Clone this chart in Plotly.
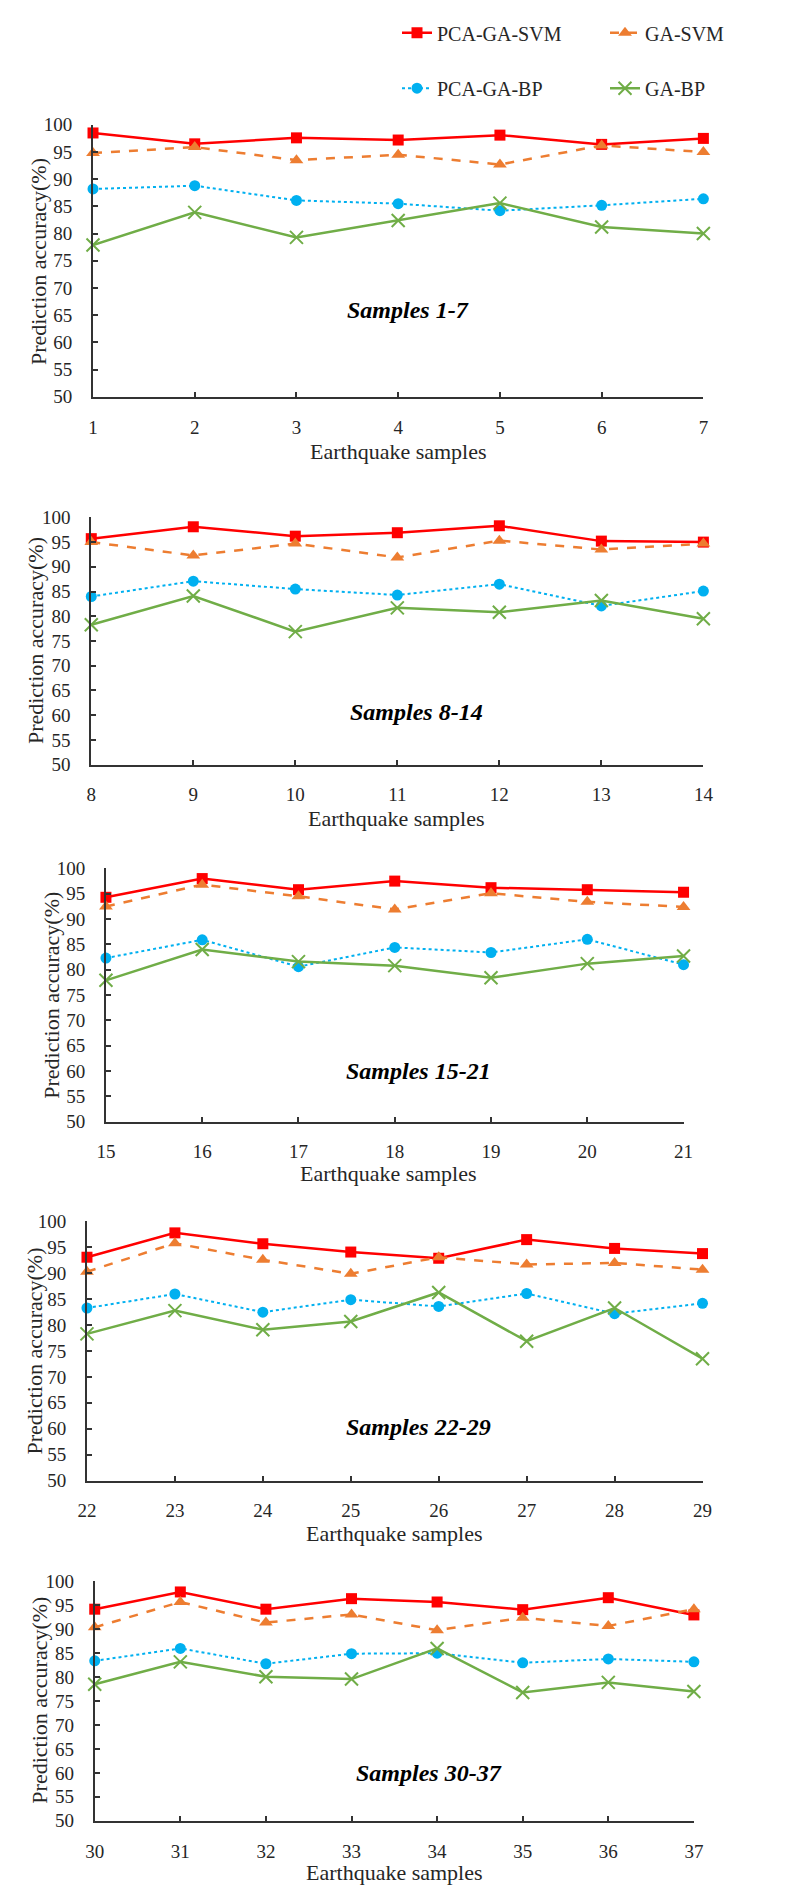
import plotly.graph_objects as go

W, H = 805, 1889

# ---------------- data ----------------
samples_p1 = [1, 2, 3, 4, 5, 6, 7]
samples_p2 = [8, 9, 10, 11, 12, 13, 14]
samples_p3 = [15, 16, 17, 18, 19, 20, 21]
samples_p4 = [22, 23, 24, 25, 26, 27, 28, 29]
samples_p5 = [30, 31, 32, 33, 34, 35, 36, 37]

pca_ga_svm_p1 = [98.5, 96.5, 97.6, 97.2, 98.1, 96.4, 97.5]
ga_svm_p1 = [94.8, 95.9, 93.5, 94.5, 92.7, 96.2, 95.0]
pca_ga_bp_p1 = [88.2, 88.8, 86.1, 85.5, 84.2, 85.2, 86.4]
ga_bp_p1 = [77.9, 83.9, 79.3, 82.4, 85.6, 81.2, 80.0]

pca_ga_svm_p2 = [95.7, 98.1, 96.2, 96.9, 98.3, 95.2, 95.0]
ga_svm_p2 = [95.0, 92.3, 94.7, 91.9, 95.3, 93.5, 94.7]
pca_ga_bp_p2 = [84.0, 87.1, 85.5, 84.3, 86.5, 82.1, 85.1]
ga_bp_p2 = [78.3, 84.1, 76.9, 81.7, 80.8, 83.2, 79.5]

pca_ga_svm_p3 = [94.3, 98.0, 95.8, 97.5, 96.2, 95.8, 95.3]
ga_svm_p3 = [92.5, 96.8, 94.5, 91.9, 95.1, 93.4, 92.4]
pca_ga_bp_p3 = [82.3, 85.9, 80.6, 84.4, 83.4, 86.0, 81.0]
ga_bp_p3 = [77.9, 84.0, 81.6, 80.8, 78.4, 81.2, 82.7]

pca_ga_svm_p4 = [93.1, 97.8, 95.7, 94.1, 92.9, 96.5, 94.8, 93.8]
ga_svm_p4 = [90.3, 95.8, 92.6, 89.9, 93.1, 91.7, 92.0, 90.7]
pca_ga_bp_p4 = [83.3, 86.0, 82.5, 84.9, 83.6, 86.1, 82.2, 84.2]
ga_bp_p4 = [78.3, 82.8, 79.1, 80.7, 86.3, 76.9, 83.3, 73.5]

pca_ga_svm_p5 = [94.2, 97.8, 94.2, 96.4, 95.7, 94.1, 96.6, 93.0]
ga_svm_p5 = [90.4, 95.7, 91.4, 93.1, 89.8, 92.4, 90.7, 94.2]
pca_ga_bp_p5 = [83.4, 86.0, 82.8, 84.9, 85.0, 83.0, 83.8, 83.2]
ga_bp_p5 = [78.5, 83.2, 80.1, 79.6, 86.0, 76.8, 78.9, 77.0]

panel_labels = ["Samples 1-7", "Samples 8-14", "Samples 15-21", "Samples 22-29", "Samples 30-37"]
series_names = ["PCA-GA-SVM", "GA-SVM", "PCA-GA-BP", "GA-BP"]
y_ticks = [50, 55, 60, 65, 70, 75, 80, 85, 90, 95, 100]

panels = [
    (samples_p1, [pca_ga_svm_p1, ga_svm_p1, pca_ga_bp_p1, ga_bp_p1]),
    (samples_p2, [pca_ga_svm_p2, ga_svm_p2, pca_ga_bp_p2, ga_bp_p2]),
    (samples_p3, [pca_ga_svm_p3, ga_svm_p3, pca_ga_bp_p3, ga_bp_p3]),
    (samples_p4, [pca_ga_svm_p4, ga_svm_p4, pca_ga_bp_p4, ga_bp_p4]),
    (samples_p5, [pca_ga_svm_p5, ga_svm_p5, pca_ga_bp_p5, ga_bp_p5]),
]

# ---------------- layout / style ----------------
FONT = "Liberation Serif, Times New Roman, serif"
TXT = "#262626"
AXC = "#333333"

# pixel boxes of each plot area: (left, right, top, bottom)
boxes = [(87, 795, 108, 383), (85, 795, 505, 755), (102, 772, 860, 1116),
         (80, 794, 1217, 1479), (89, 784, 1581, 1823)]
ytitle_pos = [(23, 246), (21, 630), (38, 988), (18, 1348), (25, 1701)]
xtitle_pos = [(441, 438), (439, 810), (430, 1168), (437, 1533), (437, 1875)]
label_pos = [(452, 295), (462, 702), (465, 1065), (465, 1425), (477, 1775)]

def fx(p):
    return p / W

def fy(p):
    return 1 - p / H

styles = [
    dict(line=dict(color="#FF0000", width=2.5, dash="solid"),
         marker=dict(symbol="square", size=11, color="#FF0000")),
    dict(line=dict(color="#ED7D31", width=2.5, dash="dash"),
         marker=dict(symbol="triangle-up", size=12, color="#ED7D31")),
    dict(line=dict(color="#00B0F0", width=2, dash="dot"),
         marker=dict(symbol="circle", size=11, color="#00B0F0")),
    dict(line=dict(color="#70AD47", width=2.5, dash="solid"),
         marker=dict(symbol="x-thin-open", size=13, color="#70AD47",
                     line=dict(width=2, color="#70AD47"))),
]
legend_ids = ["legend", "legend", "legend2", "legend2"]

fig = go.Figure()
annotations = []
for i, (xs, series) in enumerate(panels):
    ax = "" if i == 0 else str(i + 1)
    for j, ys in enumerate(series):
        fig.add_trace(go.Scatter(
            x=xs, y=ys, mode="lines+markers", name=series_names[j],
            xaxis="x" + ax, yaxis="y" + ax, cliponaxis=False,
            showlegend=(i == 0), legend=legend_ids[j], **styles[j]))
    l, r, t, b = boxes[i]
    fig.layout["xaxis" + ax] = dict(
        domain=[fx(l), fx(r)], anchor="y" + ax, range=[xs[0], xs[-1]],
        tickvals=xs, ticktext=[str(v) for v in xs], showgrid=False, zeroline=False,
        showline=True, linecolor=AXC, linewidth=2, ticks="inside",
        ticklen=5, tickwidth=2, tickcolor=AXC, ticklabelstandoff=12,
        tickfont=dict(family=FONT, size=19, color=TXT))
    fig.layout["yaxis" + ax] = dict(
        domain=[fy(b), fy(t)], anchor="x" + ax, range=[50, 100],
        tickvals=y_ticks, showgrid=False, zeroline=False,
        showline=True, linecolor=AXC, linewidth=2, ticks="inside",
        ticklen=5, tickwidth=2, tickcolor=AXC, ticklabelstandoff=15,
        tickfont=dict(family=FONT, size=19, color=TXT))
    common = dict(xref="paper", yref="paper", showarrow=False,
                  xanchor="center", yanchor="middle")
    annotations.append(dict(
        x=fx(ytitle_pos[i][0]), y=fy(ytitle_pos[i][1]),
        text="Prediction accuracy(%)", textangle=-90,
        font=dict(family=FONT, size=22, color=TXT), **common))
    annotations.append(dict(
        x=fx(xtitle_pos[i][0]), y=fy(xtitle_pos[i][1]),
        text="Earthquake samples",
        font=dict(family=FONT, size=22, color=TXT), **common))
    annotations.append(dict(
        x=fx(label_pos[i][0]), y=fy(label_pos[i][1]),
        text="<b><i>" + panel_labels[i] + "</i></b>",
        font=dict(family=FONT, size=24, color="#000000"), **common))

fig.update_layout(
    width=W, height=H, margin=dict(l=0, r=0, t=0, b=0),
    paper_bgcolor="white", plot_bgcolor="white",
    annotations=annotations,
    legend=dict(orientation="h", x=fx(440), xanchor="left", y=fy(15), yanchor="middle",
                font=dict(family=FONT, size=20, color=TXT), entrywidth=163,
                bgcolor="rgba(0,0,0,0)"),
    legend2=dict(orientation="h", x=fx(440), xanchor="left", y=fy(71), yanchor="middle",
                 font=dict(family=FONT, size=20, color=TXT), entrywidth=163,
                 bgcolor="rgba(0,0,0,0)"),
)

fig.write_html("out.html")
